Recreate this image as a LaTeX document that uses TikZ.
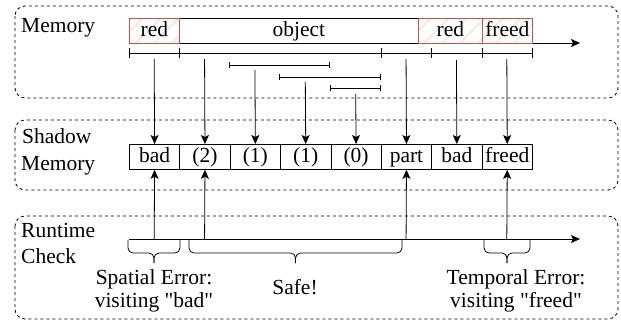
\documentclass[tikz,border=0pt]{standalone}
\usepackage{fontspec}
\setmainfont{Liberation Serif}[Ligatures=TeXOff]
\usetikzlibrary{arrows.meta}
\definecolor{redline}{RGB}{196,82,80}
\definecolor{hatchpink}{RGB}{250,212,212}

\begin{document}
\begin{tikzpicture}[x=1pt,y=-1pt,
  every node/.style={font=\fontsize{21.5}{23}\selectfont, inner sep=0pt},
  region/.style={draw, dashed, rounded corners=10pt, line width=0.8pt},
  cell/.style={draw, line width=0.8pt, minimum height=25pt, text height=15pt,
    text depth=4.5pt, anchor=north west},
  hot/.style={cell, draw=redline},
  arr/.style={-{Stealth[length=9pt,width=8pt,inset=2pt]}, line width=0.8pt},
  rule/.style={line width=0.8pt},
  bar/.style={line width=0.8pt, |-|},
  bracepath/.style={line width=0.8pt, rounded corners=5pt},
  lbl/.style={anchor=base west},
  note/.style={anchor=base}
]
\useasboundingbox (0,0) rectangle (621,322);

% ---- three regions ----
\draw[region] (15,6) rectangle (618,98);
\draw[region] (15,120) rectangle (618,190);
\draw[region] (15,216) rectangle (618,319);

\node[lbl] (memlbl) at (21,32) {Memory};
\node[lbl] (shlbl1) at (22,143) {Shadow};
\node[lbl] (shlbl2) at (21,170) {Memory};
\node[lbl] (rtlbl1) at (21,237) {Runtime};
\node[lbl] (rtlbl2) at (21,263) {Check};

% ---- memory layout ----
\coordinate (maxis0) at (129,43);
\coordinate (maxis1) at (580,43);
\draw[arr] (maxis0) -- (maxis1);

\node[cell, fill=white, minimum width=239pt] (obj) at (179,18) {object};
\fill[white] (129,18) rectangle (179,43);
\fill[white] (418,18) rectangle (532,43);
\begin{scope}
  \clip (129,18) rectangle (179,43) (418,18) rectangle (532,43);
  \foreach \k in {100,118,...,540}
    \draw[hatchpink, line width=1pt] (\k,43) -- ++(25,-25);
\end{scope}
\node[hot, minimum width=50pt] (redl) at (129,18) {red};
\node[hot, minimum width=64pt] (redr) at (418,18) {red};
\node[hot, minimum width=50pt] (freedm) at (482,18) {freed};

% granule scale
\draw[rule] (129,53) -- (532,53);
\foreach \x in {129,179,381,431,482,532}
  \draw[rule] (\x,48) -- (\x,58);

% access ranges
\draw[bar] (229,65) -- (330,65);
\draw[bar] (279,77) -- (381,77);
\draw[bar] (330,88) -- (381,88);

% ---- shadow memory ----
\foreach \t [count=\i from 0] in {{bad},{(2)},{(1)},{(1)},{(0)},{part},{bad},{freed}}
  \node[cell, minimum width=50.375pt] (s\i) at ({129+50.375*\i},144) {\t};

\foreach \i/\y in {0/59,1/59,2/70,3/82,4/94,5/59,6/60,7/59} {
  \coordinate (m\i) at ({129+50.375*(\i+0.5)},\y);
  \draw[arr] (m\i) -- (s\i.north);
}

% ---- runtime check ----
\coordinate (raxis0) at (129,239);
\coordinate (raxis1) at (580,239);
\draw[arr] (raxis0) -- (raxis1);

\foreach \i in {0,1,5,7} {
  \coordinate (r\i) at ({129+50.375*(\i+0.5)},239);
  \draw[arr] (r\i) -- (s\i.south);
}

% braces under the axis
\foreach \a/\m/\b [count=\j] in {128/154/180, 189/295.5/402, 484/507/530} {
  \coordinate (bl\j) at (\a,240);
  \coordinate (bm\j) at (\m,263);
  \coordinate (br\j) at (\b,240);
  \draw[bracepath] (bl\j) -- (\a,253) -- (\m,253) -- (bm\j);
  \draw[bracepath] (br\j) -- (\b,253) -- (\m,253) -- (bm\j);
}

\node[note] (sp1) at (154,284) {Spatial Error:};
\node[note] (sp2) at (154,307) {visiting "bad"};
\node[note] (safe) at (295,294) {Safe!};
\node[note] (tp1) at (516,284) {Temporal Error:};
\node[note] (tp2) at (516,307) {visiting "freed"};
\end{tikzpicture}
\end{document}
